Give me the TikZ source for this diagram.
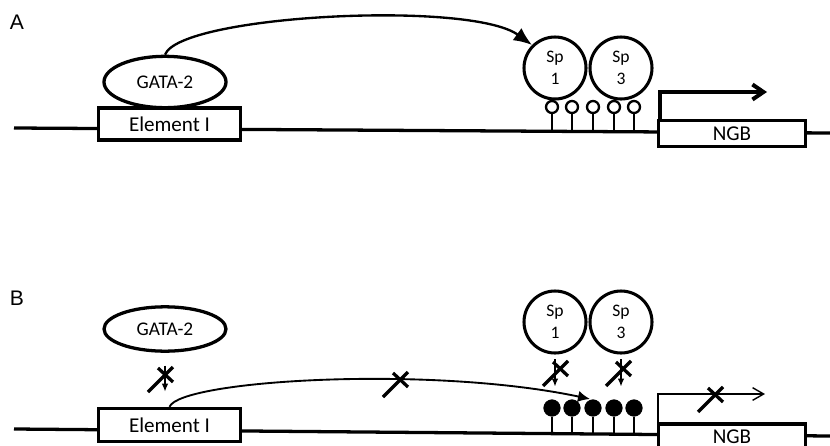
\documentclass[tikz,border=0pt]{standalone}
\usepackage{fontspec}
\setmainfont{Carlito}
\newfontfamily\panelfont{Liberation Sans}
\usepackage{tikz}
\usetikzlibrary{arrows.meta}
\usetikzlibrary{shapes.geometric}
\newcommand{\blockmark}[1]{%
  \draw[block line] (#1) ++(-14,13) -- ++(25,-25);
  \draw[block line] (#1) ++(-4,-11) -- ++(15,14);}

\begin{document}
\begin{tikzpicture}[
    x=0.03cm, y=-0.03cm,
    dna line/.style={line width=2.8pt},
    gene box/.style={draw, rectangle, line width=2.8pt, fill=white, inner sep=0pt, minimum width=4.24cm, font=\fontsize{18}{20}\selectfont},
    ngb box/.style={gene box, minimum width=4.39cm, minimum height=0.78cm},
    gata/.style={draw, ellipse, line width=2.8pt, fill=white, inner sep=0pt, minimum width=3.66cm, font=\fontsize{16.5}{18}\selectfont},
    sp factor/.style={draw, circle, line width=2.6pt, fill=white, inner sep=0pt, minimum size=1.86cm, align=center, font=\fontsize{15}{19}\selectfont},
    open pin/.style={draw, circle, line width=2pt, fill=white, inner sep=0pt, minimum size=0.36cm},
    methyl pin/.style={draw, circle, fill=black, inner sep=0pt, minimum size=0.5cm},
    pin stick/.style={line width=1.3pt},
    loop arrow/.style={line width=2pt, -{Latex[length=0.55cm, width=0.45cm]}},
    weak loop/.style={line width=1.6pt, -{Latex[length=0.36cm, width=0.34cm]}},
    start arrow/.style={line width=3.4pt, -{Straight Barb[length=0.33cm, width=0.45cm]}},
    weak start/.style={line width=1.2pt, -{Straight Barb[length=0.33cm, width=0.38cm]}},
    bind arrow/.style={line width=1.2pt, -{Latex[length=0.24cm, width=0.2cm]}},
    block line/.style={line width=2.8pt},
    panel label/.style={font=\panelfont\fontsize{18}{20}\selectfont}
    ]
    \useasboundingbox (0,0) rectangle (830,446);

    % panel A
    \node[panel label] (labA) at (17,22) {A};
    \coordinate (dnaAl) at (14,128);
    \coordinate (dnaAr) at (830,133);
    \draw[dna line] (dnaAl) -- (dnaAr);
    \node[gene box, minimum height=0.96cm] (elemA) at (169.5,124) {Element I};
    \node[ngb box] (ngbA) at (732,133.5) {NGB};
    \node[gata, minimum height=1.54cm] (gataA) at (165,82) {GATA-2};
    \node[sp factor] (sp1A) at (555,68) {Sp\\1};
    \node[sp factor] (sp3A) at (621,68) {Sp\\3};
    \foreach \x [count=\i] in {552,572,593,614,634} {
        \node[open pin] (pinA\i) at (\x,107) {};
        \coordinate (footA\i) at (\x,131);
        \draw[pin stick] (pinA\i) -- (footA\i);
    }
    % loop and transcription
    \draw[loop arrow] (gataA.north) .. controls (180,15) and (470,0) .. (sp1A.north west);
    \coordinate (tssA) at (660,120);
    \coordinate (bendA) at (660,92);
    \coordinate (runA) at (767,92);
    \draw[start arrow] (tssA) -- (bendA) -- (runA);

    % panel B
    \node[panel label] (labB) at (17,298) {B};
    \coordinate (dnaBl) at (14,429);
    \coordinate (dnaBr) at (830,436);
    \draw[dna line] (dnaBl) -- (dnaBr);
    \node[gene box, minimum height=0.99cm] (elemB) at (169.5,425) {Element I};
    \node[ngb box] (ngbB) at (732,437) {NGB};
    \node[gata, minimum height=1.33cm] (gataB) at (165,329) {GATA-2};
    \node[sp factor] (sp1B) at (555,322) {Sp\\1};
    \node[sp factor] (sp3B) at (621,322) {Sp\\3};
    \foreach \x [count=\i] in {552,572,593,614,634} {
        \node[methyl pin] (pinB\i) at (\x,408) {};
        \coordinate (footB\i) at (\x,433);
        \draw[pin stick] (pinB\i) -- (footB\i);
    }
    % blocked binding
    \draw[bind arrow, shorten <=11pt, shorten >=13pt] (gataB.south) -- (gataB.south |- elemB.north);
    \draw[bind arrow, shorten <=4pt, shorten >=11pt] (sp1B.south) -- (sp1B.south |- pinB1.north);
    \draw[bind arrow, shorten <=4pt, shorten >=11pt] (sp3B.south) -- (sp3B.south |- pinB4.north);
    \coordinate (noGata) at (162,379);
    \coordinate (noSpa) at (557,373);
    \coordinate (noSpb) at (620,373);
    \blockmark{noGata}
    \blockmark{noSpa}
    \blockmark{noSpb}
    % blocked loop and transcription
    \coordinate (loopEnd) at (590,399);
    \draw[weak loop] (elemB.north) .. controls (180,380) and (430,365) .. (loopEnd);
    \coordinate (noLoop) at (397,384);
    \blockmark{noLoop}
    \coordinate (tssB) at (658,422);
    \coordinate (bendB) at (658,394);
    \coordinate (runB) at (765,394);
    \draw[weak start] (tssB) -- (bendB) -- (runB);
    \coordinate (noStart) at (712,399);
    \blockmark{noStart}
\end{tikzpicture}
\end{document}
